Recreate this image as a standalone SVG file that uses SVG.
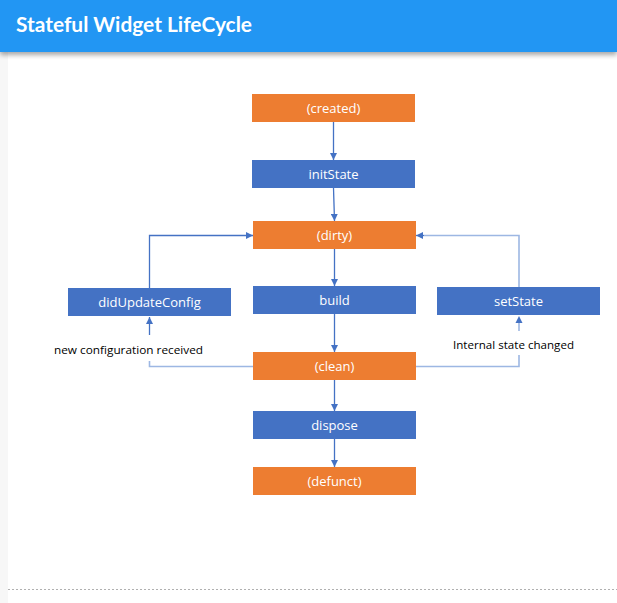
<svg xmlns="http://www.w3.org/2000/svg" width="617" height="603" viewBox="0 0 617 603">
<defs>
<filter id="sh" x="-5%" y="-20%" width="110%" height="160%">
<feGaussianBlur in="SourceAlpha" stdDeviation="2.5"/>
<feOffset dy="3"/>
<feComponentTransfer><feFuncA type="linear" slope="0.35"/></feComponentTransfer>
<feMerge><feMergeNode/><feMergeNode in="SourceGraphic"/></feMerge>
</filter>
<marker id="ah" viewBox="0 0 10 10" refX="10" refY="5" markerWidth="7" markerHeight="7" markerUnits="userSpaceOnUse" orient="auto">
<path d="M0,0 L10,5 L0,10 z" fill="#4472C4"/>
</marker>
</defs>
<style>
.o{fill:#ED7D31}
.b{fill:#4472C4}
.t{font-family:"Open Sans","Liberation Sans",sans-serif;font-size:13px;fill:#fff;text-anchor:middle}
.l{font-family:"Open Sans","Liberation Sans",sans-serif;font-size:11.5px;fill:#000}
.c{fill:none;stroke:#4472C4;stroke-width:1.3}
.cl{fill:none;stroke:#9DB7E3;stroke-width:1.6}
</style>
<rect x="0" y="0" width="617" height="603" fill="#fff"/>
<rect x="0" y="52" width="8" height="551" fill="#F7F7F7"/>
<line x1="8" y1="589.5" x2="617" y2="589.5" stroke="#B0B0B0" stroke-width="1.2" stroke-dasharray="2,2"/>
<g id="header">
<rect x="0" y="0" width="617" height="52" fill="#2196F3" filter="url(#sh)"/>
<text x="16" y="32" font-family="Lato,'Open Sans',sans-serif" font-weight="bold" font-size="20" fill="#fff" textLength="236" lengthAdjust="spacingAndGlyphs">Stateful Widget LifeCycle</text>
</g>
<g id="connectors">
<line class="c" x1="333.5" y1="122" x2="333.5" y2="160" marker-end="url(#ah)"/>
<line class="c" x1="333.5" y1="188" x2="334.5" y2="221" marker-end="url(#ah)"/>
<line class="c" x1="334.5" y1="249" x2="334.5" y2="286" marker-end="url(#ah)"/>
<line class="c" x1="334.5" y1="314" x2="334.5" y2="352" marker-end="url(#ah)"/>
<line class="c" x1="334.5" y1="380" x2="334.5" y2="411" marker-end="url(#ah)"/>
<line class="c" x1="334.5" y1="439" x2="334.5" y2="467" marker-end="url(#ah)"/>
<path class="c" d="M149.5,288 V235.5 H253" marker-end="url(#ah)"/>
<path class="cl" d="M253,366.5 H149.5 V361"/>
<line class="c" x1="149.5" y1="335" x2="149.5" y2="317" marker-end="url(#ah)"/>
<path class="cl" d="M519,287 V235.5 H424"/>
<path class="c" d="M424,235.5 H416" marker-end="url(#ah)"/>
<path class="cl" d="M416,366.5 H519 V355"/>
<line class="cl" x1="519" y1="331" x2="519" y2="322"/>
<path d="M515.5,323 L519,316 L522.5,323 z" fill="#4472C4"/>
</g>
<g id="created"><rect class="o" x="252" y="94" width="163" height="28"/><text class="t" x="333.5" y="112.5">(created)</text></g>
<g id="initState"><rect class="b" x="252" y="160" width="163" height="28"/><text class="t" x="333.5" y="178.5">initState</text></g>
<g id="dirty"><rect class="o" x="253" y="221" width="163" height="28"/><text class="t" x="334.5" y="239.5">(dirty)</text></g>
<g id="build"><rect class="b" x="253" y="286" width="163" height="28"/><text class="t" x="334.5" y="304.5">build</text></g>
<g id="clean"><rect class="o" x="253" y="352" width="163" height="28"/><text class="t" x="334.5" y="370.5">(clean)</text></g>
<g id="dispose"><rect class="b" x="253" y="411" width="163" height="28"/><text class="t" x="334.5" y="429.5">dispose</text></g>
<g id="defunct"><rect class="o" x="253" y="467" width="163" height="28"/><text class="t" x="334.5" y="485.5">(defunct)</text></g>
<g id="didUpdateConfig"><rect class="b" x="68" y="288" width="163" height="28"/><text class="t" x="149.5" y="306.5">didUpdateConfig</text></g>
<g id="setState"><rect class="b" x="437" y="287" width="163" height="28"/><text class="t" x="518.5" y="305.5">setState</text></g>
<g id="labels">
<text class="l" x="54" y="354" textLength="149" lengthAdjust="spacingAndGlyphs">new configuration received</text>
<text class="l" x="453" y="349" textLength="121" lengthAdjust="spacingAndGlyphs">Internal state changed</text>
</g>
</svg>
